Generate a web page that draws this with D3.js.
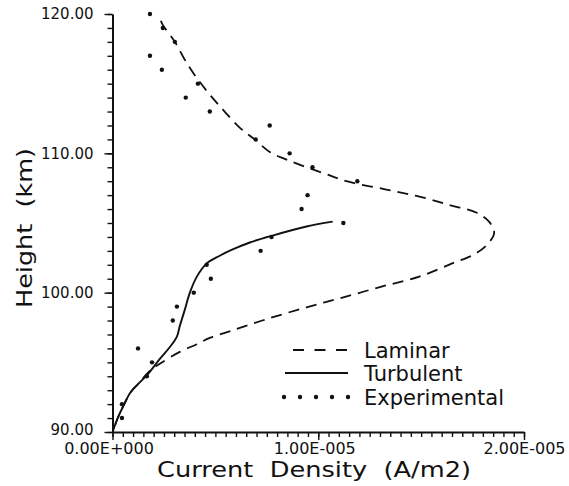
<!DOCTYPE html>
<html>
<head>
<meta charset="utf-8">
<script src="https://cdn.jsdelivr.net/npm/d3@7"></script>
<style>
  html, body { margin: 0; padding: 0; background: #fff; }
  svg { display: block; }
  text { font-family: "DejaVu Sans", sans-serif; fill: #111; }
</style>
</head>
<body>
<svg id="chart" width="569" height="486"></svg>
<script>
// ---- Data ----
// Laminar model: height (km) and current density (A/m2)
const laminarHeight = [119.5, 119.2, 118.0, 116.7, 115.4, 114.05, 113.0, 111.85, 111.0, 110.1, 109.55, 109.0, 108.5, 108.0, 107.4, 106.9, 106.3, 105.75, 105.1, 104.3, 103.45, 102.75, 102.1, 101.15, 100.45, 99.65, 98.95, 98.1, 97.3, 96.75, 96.3, 95.75, 94.9, 94.4, 93.45, 92.85, 91.85, 90.95, 90.05];
const laminarDensity = [0.235e-5, 0.245e-5, 0.303e-5, 0.352e-5, 0.410e-5, 0.482e-5, 0.545e-5, 0.618e-5, 0.691e-5, 0.764e-5, 0.846e-5, 0.943e-5, 1.040e-5, 1.137e-5, 1.331e-5, 1.491e-5, 1.636e-5, 1.767e-5, 1.830e-5, 1.855e-5, 1.821e-5, 1.758e-5, 1.651e-5, 1.491e-5, 1.312e-5, 1.118e-5, 0.943e-5, 0.749e-5, 0.584e-5, 0.473e-5, 0.410e-5, 0.327e-5, 0.230e-5, 0.182e-5, 0.125e-5, 0.088e-5, 0.052e-5, 0.024e-5, 0.002e-5];

// Turbulent model
const turbulentHeight = [105.1, 104.75, 104.1, 103.6, 103.1, 102.65, 102.1, 101.15, 100.0, 98.8, 97.6, 96.85, 96.1, 95.25, 94.15, 93.45, 92.85, 91.85, 90.95, 90.05];
const turbulentDensity = [1.070e-5, 0.943e-5, 0.778e-5, 0.667e-5, 0.584e-5, 0.521e-5, 0.458e-5, 0.410e-5, 0.376e-5, 0.352e-5, 0.327e-5, 0.313e-5, 0.279e-5, 0.230e-5, 0.172e-5, 0.125e-5, 0.088e-5, 0.052e-5, 0.024e-5, 0.002e-5];

// Experimental points
const expHeight = [120, 119, 118, 117, 116, 115, 114, 113, 112, 111, 110, 109, 108, 107, 106, 105, 104, 103, 102, 101, 100, 99, 98, 96, 95, 94, 92, 91];
const expDensity = [0.182e-5, 0.245e-5, 0.303e-5, 0.182e-5, 0.240e-5, 0.415e-5, 0.356e-5, 0.473e-5, 0.764e-5, 0.696e-5, 0.861e-5, 0.972e-5, 1.190e-5, 0.948e-5, 0.919e-5, 1.122e-5, 0.773e-5, 0.720e-5, 0.458e-5, 0.478e-5, 0.395e-5, 0.313e-5, 0.293e-5, 0.124e-5, 0.192e-5, 0.167e-5, 0.046e-5, 0.046e-5];

// Axis ticks
const yMajorTicks = [90, 100, 110, 120];
const xMajorTicks = [0, 1e-5, 2e-5];
const legendLabels = ["Laminar", "Turbulent", "Experimental"];
const xTitle = "Current  Density  (A/m2)";
const yTitle = "Height  (km)";

// ---- Layout ----
const svg = d3.select("#chart");
const x = d3.scaleLinear().domain([0, 2e-5]).range([112.5, 524]);
const y = d3.scaleLinear().domain([90, 120]).range([432, 14]);
const ink = "#111";

function sciFmt(v) {
  if (v === 0) return "0.00E+000";
  const e = Math.floor(Math.log10(Math.abs(v)) + 1e-9);
  const m = v / Math.pow(10, e);
  return m.toFixed(2) + "E" + (e < 0 ? "-" : "+") + String(Math.abs(e)).padStart(3, "0");
}

// Minor ticks
const yMinor = svg.append("g").attr("transform", `translate(${x(0)},0)`)
  .call(d3.axisLeft(y).tickValues(d3.range(90, 121, 1)).tickSize(5).tickFormat(""));
yMinor.select(".domain").remove();
const xMinor = svg.append("g").attr("transform", `translate(0,${y(90)})`)
  .call(d3.axisBottom(x).tickValues(d3.range(0, 41).map(i => i * 0.5e-6)).tickSize(5).tickFormat(""));
xMinor.select(".domain").remove();

// Major axes
const yAxis = svg.append("g").attr("transform", `translate(${x(0)},0)`)
  .call(d3.axisLeft(y).tickValues(yMajorTicks).tickSize(8).tickSizeOuter(0).tickPadding(11).tickFormat(d3.format(".2f")));
const xAxis = svg.append("g").attr("transform", `translate(0,${y(90)})`)
  .call(d3.axisBottom(x).tickValues(xMajorTicks).tickSize(8).tickSizeOuter(0).tickPadding(3).tickFormat(sciFmt));

svg.selectAll(".tick line").attr("stroke", ink).attr("stroke-width", 1.4);
svg.selectAll(".domain").attr("stroke", ink).attr("stroke-width", 2);
yAxis.selectAll("text").attr("font-size", 15).attr("font-family", "DejaVu Sans").attr("fill", ink)
  .attr("dy", d => d === 90 ? "0.18em" : "0.32em");
xAxis.selectAll("text").attr("font-size", 16).attr("font-family", "DejaVu Sans").attr("fill", ink)
  .attr("dx", (d, i) => i < 2 ? -4 : 0);

// Axis titles
svg.append("text")
  .attr("x", 157).attr("y", 477)
  .attr("font-size", 22)
  .attr("textLength", 314).attr("lengthAdjust", "spacingAndGlyphs")
  .style("white-space", "pre")
  .text(xTitle);
svg.append("text")
  .attr("transform", "translate(32,228) rotate(-90)")
  .attr("text-anchor", "middle")
  .attr("font-size", 22)
  .attr("textLength", 160).attr("lengthAdjust", "spacingAndGlyphs")
  .style("white-space", "pre")
  .text(yTitle);

// Lines
const line = d3.line().x(d => x(d[1])).y(d => y(d[0])).curve(d3.curveCatmullRom.alpha(0.5));
svg.append("path")
  .datum(laminarHeight.map((h, i) => [h, laminarDensity[i]]))
  .attr("d", line).attr("fill", "none").attr("stroke", ink)
  .attr("stroke-width", 1.8).attr("stroke-dasharray", "11,7");
svg.append("path")
  .datum(turbulentHeight.map((h, i) => [h, turbulentDensity[i]]))
  .attr("d", line).attr("fill", "none").attr("stroke", ink)
  .attr("stroke-width", 1.9);

// Experimental points
svg.append("g").selectAll("circle")
  .data(expHeight.map((h, i) => [h, expDensity[i]]))
  .join("circle")
  .attr("cx", d => x(d[1])).attr("cy", d => y(d[0])).attr("r", 2.2).attr("fill", ink);

// Legend
const lg = svg.append("g");
const rowY = [350, 373, 397];
lg.append("line").attr("x1", 293).attr("x2", 347).attr("y1", rowY[0]).attr("y2", rowY[0])
  .attr("stroke", ink).attr("stroke-width", 1.8).attr("stroke-dasharray", "11,10.5");
lg.append("line").attr("x1", 285).attr("x2", 348).attr("y1", rowY[1]).attr("y2", rowY[1])
  .attr("stroke", ink).attr("stroke-width", 1.9);
lg.selectAll("circle.lgd").data(d3.range(5)).join("circle").attr("class", "lgd")
  .attr("cx", i => 284 + i * 16).attr("cy", rowY[2]).attr("r", 2.2).attr("fill", ink);
lg.selectAll("text").data(legendLabels).join("text")
  .attr("x", 364).attr("y", (d, i) => rowY[i] + 8)
  .attr("font-size", 21)
  .text(d => d);
</script>
</body>
</html>
